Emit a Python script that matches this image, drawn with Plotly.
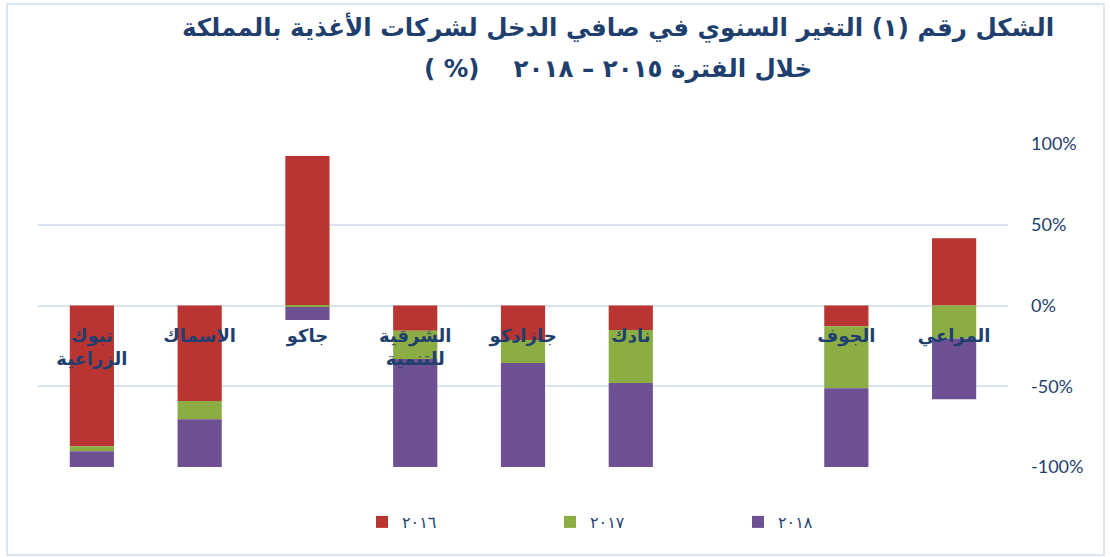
import plotly.graph_objects as go

# Categories (right-to-left order as in the reference: first item is rightmost)
keys = ["المراعي", "الجوف", "غير متاح", "نادك", "جازادكو", "الشرقية للتنمية", "جاكو", "الاسماك", "تبوك الزراعية"]
labels = ["المراعي", "الجوف", "", "نادك", "جازادكو", "الشرقية<br>للتنمية", "جاكو", "الاسماك", "تبوك<br>الزراعية"]

# Annual change in net income (%)
v2016 = [41.6, -12.9, None, -15.1, -21.3, -15.7, 92.5, -59.2, -87.2]
v2017 = [-20.4, -38.3, None, -32.9, -14.3, -17.4, -1.0, -11.2, -3.0]
v2018 = [-37.7, -60.0, None, -65.0, -75.0, -80.0, -8.0, -45.0, -20.0]

series_names = ["٢٠١٦", "٢٠١٧", "٢٠١٨"]
colors = ["#B93532", "#8BAD43", "#6D5193"]

y_ticks = [-100, -50, 0, 50, 100]
y_ticktext = ["-100%", "-50%", "0%", "50%", "100%"]

title_line1 = "الشكل رقم (١) التغير السنوي في صافي الدخل لشركات الأغذية بالمملكة"
title_line2 = "خلال الفترة ٢٠١٥ – ٢٠١٨    (% )\u200F"

W, H = 1110, 557
L, R, T, B = 38, 102, 144, 90
pw, ph = W - L - R, H - T - B

navy = "#1F3F6E"

fig = go.Figure()
for name, vals, col in zip(series_names, [v2016, v2017, v2018], colors):
    fig.add_trace(go.Bar(x=keys, y=vals, name=name, marker=dict(color=col, line=dict(width=0))))

fig.update_layout(
    width=W, height=H,
    margin=dict(l=L, r=R, t=T, b=B),
    barmode="relative",
    bargap=0.59,
    plot_bgcolor="white",
    paper_bgcolor="white",
    xaxis=dict(
        autorange="reversed",
        categoryorder="array", categoryarray=keys,
        tickvals=keys, ticktext=labels,
        anchor="free", position=0.5,
        showgrid=False, showline=False, zeroline=False, ticks="",
        ticklabelstandoff=17,
        tickfont=dict(family="DejaVu Sans", size=18, color=navy, weight=700),
    ),
    yaxis=dict(
        side="right", range=[-100, 100],
        tickvals=y_ticks, ticktext=y_ticktext,
        showgrid=True, gridcolor="#D9E3F0", gridwidth=2,
        zeroline=False, showline=False, ticks="",
        ticklabelstandoff=22,
        tickfont=dict(family="Lato", size=18, color=navy),
    ),
    legend=dict(
        orientation="h", x=(362 - L) / pw, xanchor="left",
        y=-(522 - (H - B)) / ph, yanchor="middle",
        entrywidth=143, entrywidthmode="pixels",
        font=dict(family="DejaVu Sans", size=16, color=navy),
        traceorder="normal",
    ),
    showlegend=True,
)

for txt, ytop in [(title_line1, 10), (title_line2, 52)]:
    fig.add_annotation(
        text=txt, xref="paper", yref="paper",
        x=(618 - L) / pw, xanchor="center",
        y=((H - B) - ytop) / ph, yanchor="top",
        showarrow=False, align="center",
        font=dict(family="DejaVu Sans", size=24.5, color=navy, weight=700),
    )

fig.add_shape(
    type="rect", xref="paper", yref="paper",
    x0=(7 - L) / pw, x1=(1104 - L) / pw,
    y0=((H - B) - 555) / ph, y1=((H - B) - 4) / ph,
    line=dict(color="#DCE6F2", width=2), fillcolor="rgba(0,0,0,0)", layer="below",
)

fig.write_html("out.html", config={"displayModeBar": False},
               post_script="document.body.style.margin='0';")
